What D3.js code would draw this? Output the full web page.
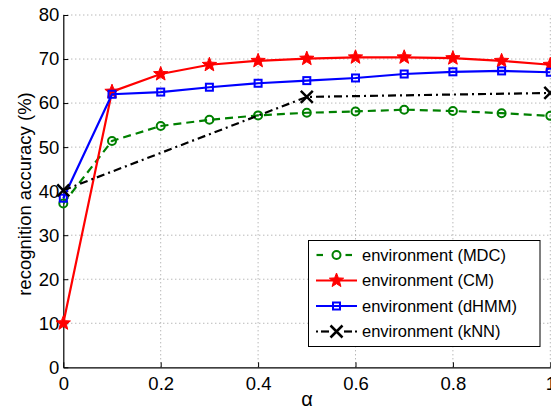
<!DOCTYPE html>
<html><head><meta charset="utf-8">
<script src="https://cdn.jsdelivr.net/npm/d3@7"></script>
<style>
html,body{margin:0;padding:0;background:#fff;}
svg{display:block;font-family:"Liberation Sans",Arial,Helvetica,sans-serif;}
</style></head>
<body>
<svg id="chart" width="551" height="410"></svg>
<script>
const alphaVals = [0, 0.1, 0.2, 0.3, 0.4, 0.5, 0.6, 0.7, 0.8, 0.9, 1.0];
const mdcVals  = [37.2, 51.4, 54.8, 56.2, 57.2, 57.8, 58.1, 58.5, 58.2, 57.7, 57.1];
const cmVals   = [10.0, 62.6, 66.6, 68.7, 69.6, 70.1, 70.4, 70.4, 70.2, 69.6, 68.7];
const dhmmVals = [38.4, 62.0, 62.5, 63.6, 64.5, 65.1, 65.7, 66.6, 67.1, 67.3, 67.0];
const knnAlpha = [0, 0.5, 1.0];
const knnVals  = [40.2, 61.4, 62.3];
const xTicks = [0, 0.2, 0.4, 0.6, 0.8, 1];
const xTickLabels = ["0", "0.2", "0.4", "0.6", "0.8", "1"];
const yTicks = [0, 10, 20, 30, 40, 50, 60, 70, 80];
const seriesNames = ["environment (MDC)", "environment (CM)", "environment (dHMM)", "environment (kNN)"];

const svg = d3.select("#chart");
const L = 63.3, R = 550.3, T = 15, B = 367.3;
const x = d3.scaleLinear().domain([0, 1]).range([L, R]);
const y = d3.scaleLinear().domain([0, 80]).range([B, T]);

// grid
const grid = svg.append("g").attr("stroke", "#9a9a9a").attr("stroke-width", 1).attr("stroke-dasharray", "1,3");
grid.selectAll("line.v").data(xTicks.slice(1)).join("line")
  .attr("x1", d => x(d)).attr("x2", d => x(d)).attr("y1", B).attr("y2", T);
grid.selectAll("line.h").data(yTicks.slice(1)).join("line")
  .attr("x1", L).attr("x2", R + 2).attr("y1", d => y(d)).attr("y2", d => y(d));

// axes
const xAxis = d3.axisBottom(x).tickValues(xTicks).tickSizeInner(-5).tickSizeOuter(0).tickPadding(10)
  .tickFormat((d, i) => xTickLabels[i]);
const gx = svg.append("g").attr("transform", `translate(0,${B})`).call(xAxis);
gx.select(".domain").attr("stroke", "#000").attr("stroke-width", 1.2);
gx.selectAll(".tick line").attr("stroke", "#000");
gx.selectAll(".tick text").attr("font-size", 18.5).attr("fill", "#000").attr("font-family", "Liberation Sans, Arial, sans-serif");

const yAxis = d3.axisLeft(y).tickValues(yTicks).tickSizeInner(-5).tickSizeOuter(0).tickPadding(4);
const gy = svg.append("g").attr("transform", `translate(${L},0)`).call(yAxis);
gy.select(".domain").attr("stroke", "#000").attr("stroke-width", 1.2);
gy.selectAll(".tick line").attr("stroke", "#000");
gy.selectAll(".tick text").attr("font-size", 18.5).attr("fill", "#000").attr("font-family", "Liberation Sans, Arial, sans-serif");

// axis labels
svg.append("text").attr("transform", "translate(31,194) rotate(-90)")
  .attr("text-anchor", "middle").attr("font-size", 18.5).attr("fill", "#000")
  .text("recognition accuracy (%)");
svg.append("text").attr("x", 307).attr("y", 406).attr("text-anchor", "middle")
  .attr("font-size", 20).attr("fill", "#000").text("α");

// markers
function starPath(r1, r2) {
  const pts = [];
  for (let i = 0; i < 10; i++) {
    const r = i % 2 === 0 ? r1 : r2;
    const a = -Math.PI / 2 + i * Math.PI / 5;
    pts.push([r * Math.cos(a), r * Math.sin(a)]);
  }
  return "M" + pts.map(p => p.join(",")).join("L") + "Z";
}
function drawMarker(g, type, cx, cy) {
  if (type === "circle") {
    g.append("circle").attr("cx", cx).attr("cy", cy).attr("r", 4)
      .attr("fill", "none").attr("stroke", "#008000").attr("stroke-width", 2);
  } else if (type === "star") {
    g.append("path").attr("d", starPath(7.5, 3.2)).attr("transform", `translate(${cx},${cy})`)
      .attr("fill", "#ff0000").attr("stroke", "#ff0000").attr("stroke-width", 1);
  } else if (type === "square") {
    g.append("rect").attr("x", cx - 3.5).attr("y", cy - 3.5).attr("width", 7).attr("height", 7)
      .attr("fill", "none").attr("stroke", "#0000ff").attr("stroke-width", 2);
  } else if (type === "x") {
    const s = 6;
    g.append("path").attr("d", `M${cx - s},${cy - s}L${cx + s},${cy + s}M${cx - s},${cy + s}L${cx + s},${cy - s}`)
      .attr("stroke", "#000").attr("stroke-width", 2.5).attr("fill", "none");
  }
}

const series = [
  {name: seriesNames[0], xs: alphaVals, ys: mdcVals, color: "#008000", dash: "8,5", marker: "circle"},
  {name: seriesNames[1], xs: alphaVals, ys: cmVals, color: "#ff0000", dash: null, marker: "star"},
  {name: seriesNames[2], xs: alphaVals, ys: dhmmVals, color: "#0000ff", dash: null, marker: "square"},
  {name: seriesNames[3], xs: knnAlpha, ys: knnVals, color: "#000000", dash: "8,4,2,4", marker: "x"}
];

const line = d3.line().x(d => x(d[0])).y(d => y(d[1]));
series.forEach(s => {
  const g = svg.append("g");
  const pts = s.xs.map((v, i) => [v, s.ys[i]]);
  g.append("path").attr("d", line(pts)).attr("fill", "none").attr("stroke", s.color)
    .attr("stroke-width", 2.2).attr("stroke-dasharray", s.dash);
  pts.forEach(p => drawMarker(g, s.marker, x(p[0]), y(p[1])));
});

// legend
const lg = svg.append("g");
lg.append("rect").attr("x", 308.5).attr("y", 240.5).attr("width", 231.5).attr("height", 106)
  .attr("fill", "#fff").attr("stroke", "#000").attr("stroke-width", 1);
const rowY = [255, 280.5, 306, 331.5];
series.forEach((s, i) => {
  const yy = rowY[i];
  const g = lg.append("g");
  if (s.marker === "circle") {
    [[316.5, 323], [345.5, 352]].forEach(seg => {
      g.append("line").attr("x1", seg[0]).attr("x2", seg[1]).attr("y1", yy).attr("y2", yy)
        .attr("stroke", s.color).attr("stroke-width", 2.2);
    });
  } else if (s.marker === "x") {
    [[316, 318], [321, 329], [344, 352], [355, 357]].forEach(seg => {
      g.append("line").attr("x1", seg[0]).attr("x2", seg[1]).attr("y1", yy).attr("y2", yy)
        .attr("stroke", s.color).attr("stroke-width", 2.2);
    });
  } else {
    g.append("line").attr("x1", 316).attr("x2", 357).attr("y1", yy).attr("y2", yy)
      .attr("stroke", s.color).attr("stroke-width", 2.2);
  }
  drawMarker(g, s.marker, 336.5, yy);
  g.append("text").attr("x", 362).attr("y", yy).attr("dy", "0.36em")
    .attr("font-size", 16.5).attr("fill", "#000").text(s.name);
});
</script>
</body></html>
